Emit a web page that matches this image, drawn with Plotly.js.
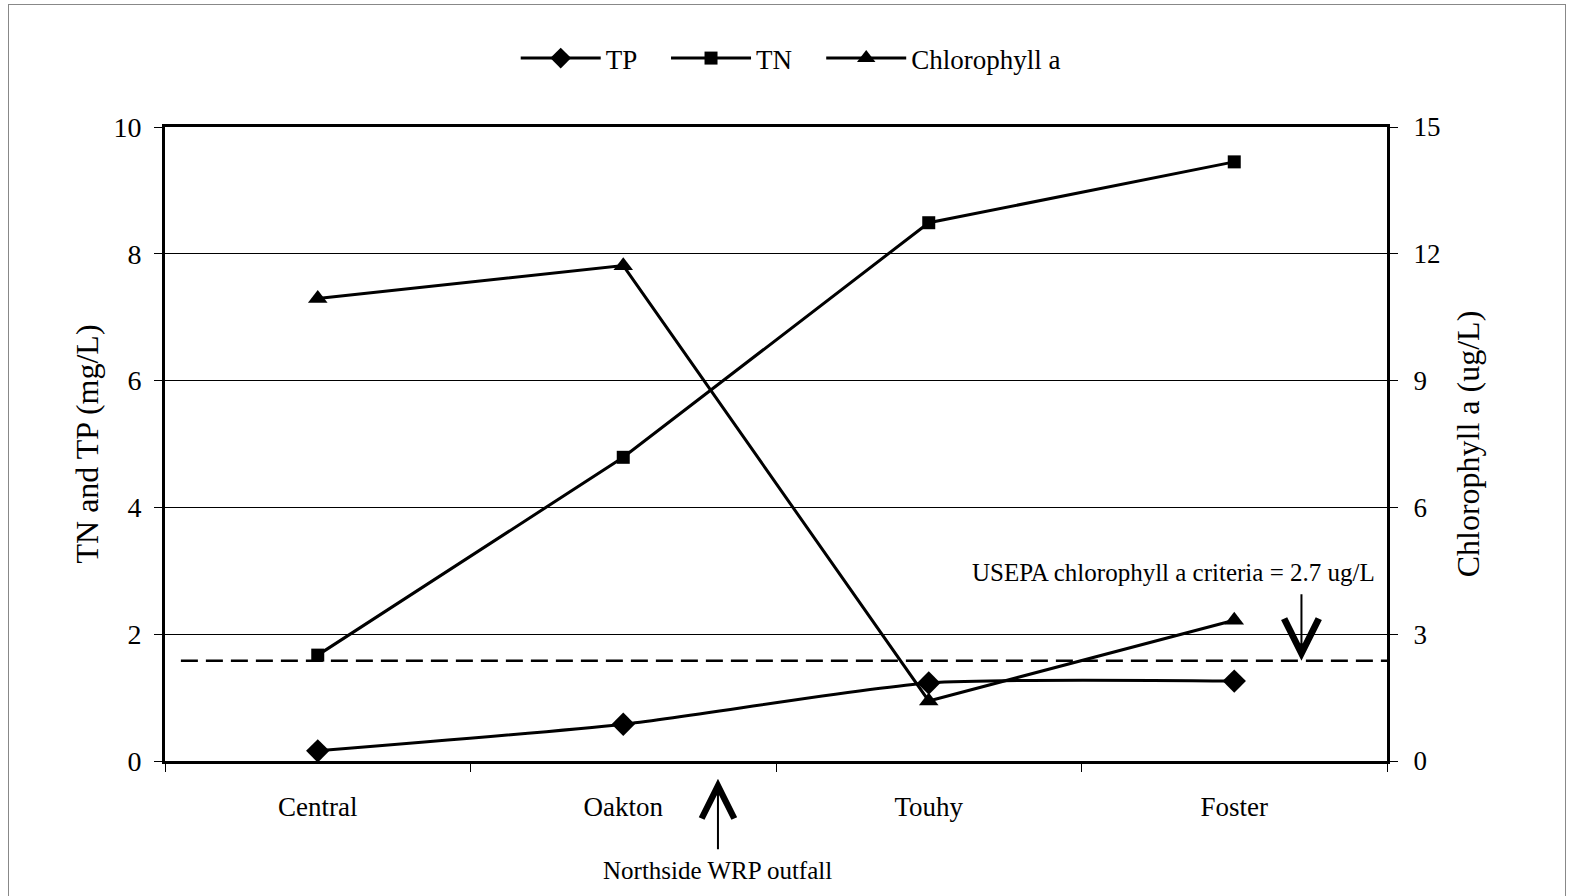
<!DOCTYPE html>
<html>
<head>
<meta charset="utf-8">
<script src="https://cdn.plot.ly/plotly-3.0.1.min.js"></script>
<style>
html,body{margin:0;padding:0;background:#fff;}
#wrap{position:relative;width:1575px;height:896px;}
#chart{width:1575px;height:896px;}
#frame{position:absolute;left:8px;top:4px;width:1556px;height:900px;border:1px solid #888;pointer-events:none;}
</style>
</head>
<body>
<div id="wrap"><div id="chart"></div><div id="frame"></div></div>
<script>
const sites = ["Central", "Oakton", "Touhy", "Foster"];
const tp = [0.16, 0.58, 1.23, 1.26];
const tn = [1.67, 4.79, 8.49, 9.45];
const chla = [10.94, 11.72, 1.42, 3.33];
const criteriaLevel = 2.37;
const leftTicks = [0, 2, 4, 6, 8, 10];
const rightTicks = [0, 3, 6, 9, 12, 15];

const F = "Liberation Serif, Times New Roman, serif";
const lineStyle = {color: "#000", width: 3};

const traces = [
  {x: sites, y: tp, name: "TP", type: "scatter", mode: "lines+markers", legend: "legend",
   line: Object.assign({shape: "spline", smoothing: 0.6}, lineStyle),
   marker: {symbol: "diamond", size: 18, color: "#000"}},
  {x: sites, y: tn, name: "TN", type: "scatter", mode: "lines+markers", legend: "legend2",
   line: lineStyle, marker: {symbol: "square", size: 13, color: "#000"}},
  {x: sites, y: chla, name: "Chlorophyll a", type: "scatter", mode: "lines+markers", legend: "legend3",
   yaxis: "y2", line: lineStyle, marker: {symbol: "triangle-up", size: 17, color: "#000"}}
];

function leg(xp) {
  return {orientation: "h", x: xp, xanchor: "left", y: 1.108, yanchor: "middle",
          font: {family: F, size: 27, color: "#000"}, itemwidth: 80,
          bgcolor: "rgba(0,0,0,0)", borderwidth: 0};
}

const layout = {
  width: 1575, height: 896,
  margin: {l: 165, r: 188, t: 127, b: 135},
  paper_bgcolor: "#fff", plot_bgcolor: "#fff",
  font: {family: F, color: "#000", size: 24},
  showlegend: true,
  legend: leg(0.287),
  legend2: leg(0.41),
  legend3: leg(0.537),
  xaxis: {type: "category", range: [-0.5, 3.5], showline: true, linecolor: "#000", linewidth: 3,
          mirror: true, ticks: "outside", tickson: "boundaries", ticklen: 8, tickcolor: "#000",
          tickwidth: 1, showgrid: false, zeroline: false, ticklabelstandoff: 20,
          tickfont: {family: F, size: 27, color: "#000"}},
  yaxis: {range: [0, 10], tickvals: leftTicks, showline: true, linecolor: "#000", linewidth: 3,
          ticks: "outside", ticklen: 8, tickcolor: "#000", tickwidth: 1,
          showgrid: true, gridcolor: "#000", gridwidth: 1, zeroline: false,
          ticklabelstandoff: 7,
          tickfont: {family: F, size: 28, color: "#000"},
          title: {text: "TN and TP (mg/L)", font: {family: F, size: 32, color: "#000"}, standoff: 6}},
  yaxis2: {range: [0, 15], tickvals: rightTicks, overlaying: "y", side: "right",
           showline: true, linecolor: "#000", linewidth: 3, ticks: "outside", ticklen: 8,
           tickcolor: "#000", tickwidth: 1, showgrid: false, zeroline: false,
           ticklabelstandoff: 10,
           tickfont: {family: F, size: 27, color: "#000"},
           title: {text: "Chlorophyll a (ug/L)", font: {family: F, size: 32, color: "#000"}, standoff: 18}},
  shapes: [
    {type: "line", xref: "paper", yref: "y2", x0: 0.013, x1: 1, y0: criteriaLevel, y1: criteriaLevel,
     line: {color: "#000", width: 2.5, dash: "17px,8px"}}
  ],
  annotations: [
    {xref: "x", yref: "paper", x: 1.31, y: -0.028, text: "", showarrow: true,
     ax: 0, ay: 72, arrowhead: 5, arrowsize: 3.2, arrowwidth: 2, arrowcolor: "#000"},
    {xref: "x", yref: "paper", x: 1.31, y: -0.172, text: "Northside WRP outfall", showarrow: false,
     font: {family: F, size: 25, color: "#000"}, xanchor: "center", yanchor: "middle"},
    {xref: "x", yref: "y2", x: 3.22, y: criteriaLevel, text: "", showarrow: true,
     ax: 0, ay: -68, arrowhead: 5, arrowsize: 3.4, arrowwidth: 2, arrowcolor: "#000"},
    {xref: "x", yref: "paper", x: 2.8, y: 0.298, text: "USEPA chlorophyll a criteria = 2.7 ug/L",
     showarrow: false, font: {family: F, size: 25, color: "#000"}, xanchor: "center", yanchor: "middle"}
  ]
};

Plotly.newPlot("chart", traces, layout, {displayModeBar: false, staticPlot: true});
</script>
</body>
</html>
